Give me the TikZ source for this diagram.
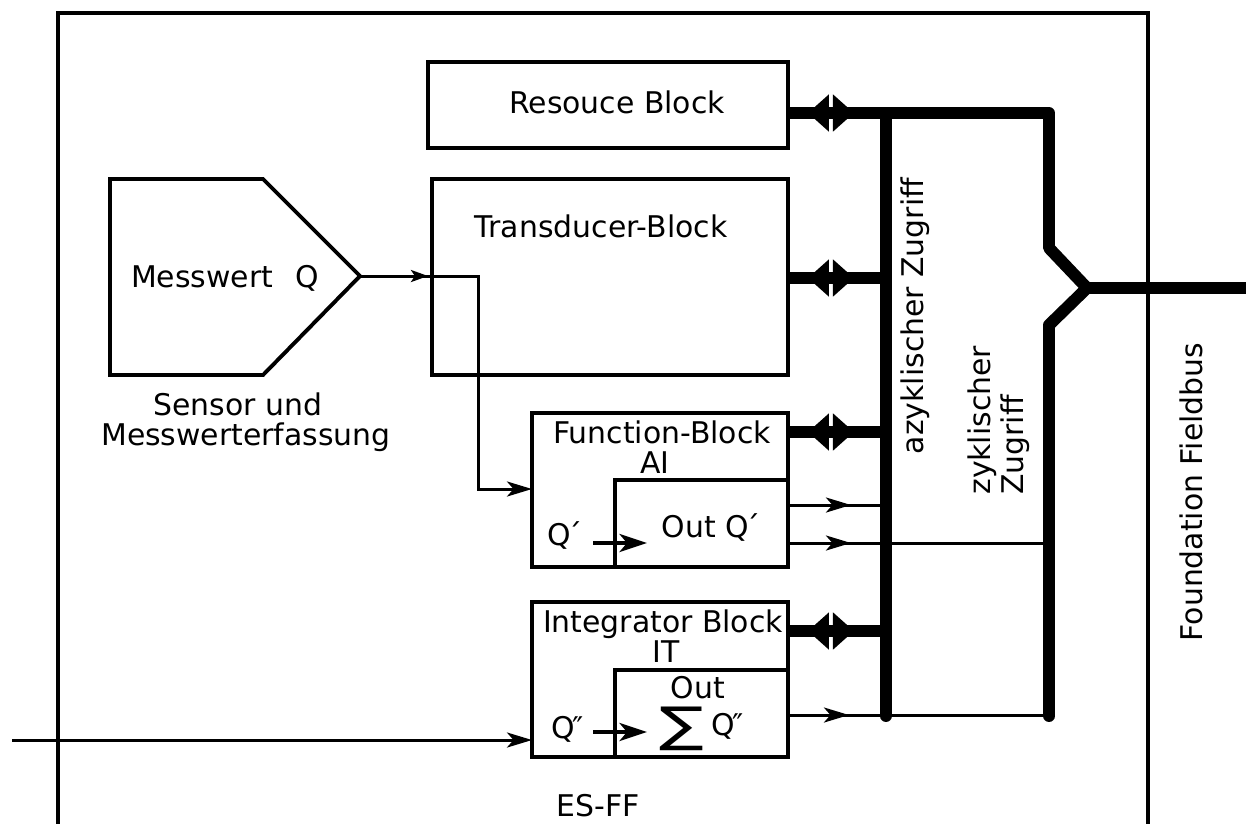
\documentclass[tikz,border=0pt]{standalone}
\usepackage{fontspec}
\setmainfont{DejaVu Sans}
\usetikzlibrary{arrows.meta,decorations.markings}
\tikzset{
  box/.style={draw, line width=2.2pt, inner sep=0pt, outer sep=0pt, anchor=north west},
  boxline/.style={line width=2.2pt, line join=miter},
  frameline/.style={line width=1.9pt},
  txt/.style={inner sep=0pt, anchor=base, font=\fontsize{17}{20}\selectfont},
  sig/.style={line width=1.7pt},
  bus/.style={line width=6.8pt, line join=round, line cap=round},
  busarm/.style={line width=6.8pt, line cap=butt},
  sigtip/.tip={Stealth[length=0.5cm, width=0.3cm, inset=0.13cm]},
  intip/.tip={Stealth[length=0.55cm, width=0.36cm, inset=0.15cm]},
  smalltip/.tip={Stealth[length=0.34cm, width=0.24cm, inset=0.08cm]},
  bustip/.tip={Triangle[length=0.42cm, width=0.72cm]},
  midarrow/.style={postaction={decorate}, decoration={markings, mark=at position #1 with {\arrow{sigtip}}}},
  dbl/.style={postaction={decorate}, decoration={markings,
      mark=at position 0.4cm with {\arrowreversed{bustip}},
      mark=at position 1.32cm with {\arrow{bustip}}}},
}
\begin{document}
\begin{tikzpicture}[x=0.02cm,y=-0.02cm]
\useasboundingbox (0,0) rectangle (1246,823);
\clip (0,0) rectangle (1246,823);
\fill[white] (0,0) rectangle (1246,823);

% device frame
\draw[frameline] (58,870) -- (58,13) -- (1148,13) -- (1148,870);

% blocks
\node[box, minimum width=7.2cm,  minimum height=1.72cm] (res)   at (428,62)  {};
\node[box, minimum width=7.12cm, minimum height=3.92cm] (trans) at (432,179) {};
\node[box, minimum width=5.12cm, minimum height=3.08cm] (fb)    at (532,413) {};
\node[box, minimum width=3.46cm, minimum height=1.74cm] (fbout) at (615,480) {};
\node[box, minimum width=5.12cm, minimum height=3.10cm] (it)    at (532,602) {};
\node[box, minimum width=3.46cm, minimum height=1.74cm] (itout) at (615,670) {};

% sensor
\draw[boxline] (110,179) -- (263,179) -- (360,276) -- (263,375) -- (110,375) -- cycle;
\coordinate (stip) at (360,276);

% texts
\node[txt] (tres)   at (617,113) {Resouce Block};
\node[txt] (ttrans) at (601,237) {Transducer-Block};
\node[txt] (tmess)  at (225,287) {Messwert\hspace{0.75em}Q};
\node[txt] (tsen1)  at (238,415) {Sensor und};
\node[txt] (tsen2)  at (246,445) {Messwerterfassung};
\node[txt] (tfb)    at (662,443) {Function-Block};
\node[txt] (tai)    at (655,473) {AI};
\node[txt] (tq1)    at (565,545) {Q\kern-0.12em´};
\node[txt] (tout1)  at (711,537) {Out Q\kern-0.12em´};
\node[txt] (tit)    at (663,632) {Integrator Block};
\node[txt] (tit2)   at (666,662) {IT};
\node[txt] (tout2)  at (698,698) {Out};
\node[txt] (tq2)    at (568,738) {Q\kern-0.08em″};
\node[txt, anchor=south] (tsum) at (682,751) {\scalebox{1.45}[1.05]{\fontsize{26}{26}\selectfont ∑}};
\node[txt] (tq3)    at (728,735) {Q\kern-0.08em″};
\node[txt] (tes)    at (598,816) {ES-FF};
\node[txt, rotate=90] (tazy) at (923,316) {azyklischer Zugriff};
\node[txt, rotate=90, anchor=base west] (tzy1) at (990,495) {zyklischer};
\node[txt, rotate=90, anchor=base west] (tzy2) at (1023,495) {Zugriff};
\node[txt, rotate=90] (tff) at (1202,492) {Foundation Fieldbus};

% bus coordinates
\coordinate (bR) at (886,113);
\coordinate (bT) at (886,278);
\coordinate (bF) at (886,432);
\coordinate (bI) at (886,631);
\coordinate (bB) at (886,716);
\coordinate (rTop) at (1049,113);
\coordinate (rK1) at (1049,248);
\coordinate (rJ) at (1087,288);
\coordinate (rK2) at (1049,325);
\coordinate (rBot) at (1049,716);
\coordinate (fEnd) at (1260,288);

% buses
\draw[bus] (bR) -- (bB);
\draw[bus] (bR) -- (rTop) -- (rK1) -- (rJ) -- (rK2) -- (rBot);
\draw[busarm] (rJ) -- (fEnd);

% block-to-bus double arrows
\draw[busarm, dbl] (res.east |- bR) -- (bR);
\draw[busarm, dbl] (trans.east |- bT) -- (bT);
\draw[busarm, dbl] (fb.east |- bF) -- (bF);
\draw[busarm, dbl] (it.east |- bI) -- (bI);

% signal paths
\coordinate (c1) at (478,276);
\coordinate (c2) at (478,489);
\draw[sig, -{sigtip}, postaction={decorate},
  decoration={markings, mark=at position 1.36cm with {\arrow{smalltip}}}]
  (stip) -- (c1) -- (c2) -- (fb.west |- c2);

\coordinate (o1) at (886,505);
\coordinate (o2) at (1049,543);
\coordinate (o3) at (1049,715);
\draw[sig, midarrow=1.26cm] (fbout.east |- o1) -- (o1);
\draw[sig, midarrow=1.26cm] (fbout.east |- o2) -- (o2);
\draw[sig, midarrow=1.22cm] (itout.east |- o3) -- (o3);

\coordinate (inL) at (12,740);
\draw[sig, -{sigtip}] (inL) -- (it.west |- inL);

\coordinate (qa1) at (593,543);
\coordinate (qa2) at (647,543);
\coordinate (qb1) at (593,732);
\coordinate (qb2) at (647,732);
\draw[line width=2.2pt, -{intip}] (qa1) -- (qa2);
\draw[line width=2.2pt, -{intip}] (qb1) -- (qb2);
\end{tikzpicture}
\end{document}
